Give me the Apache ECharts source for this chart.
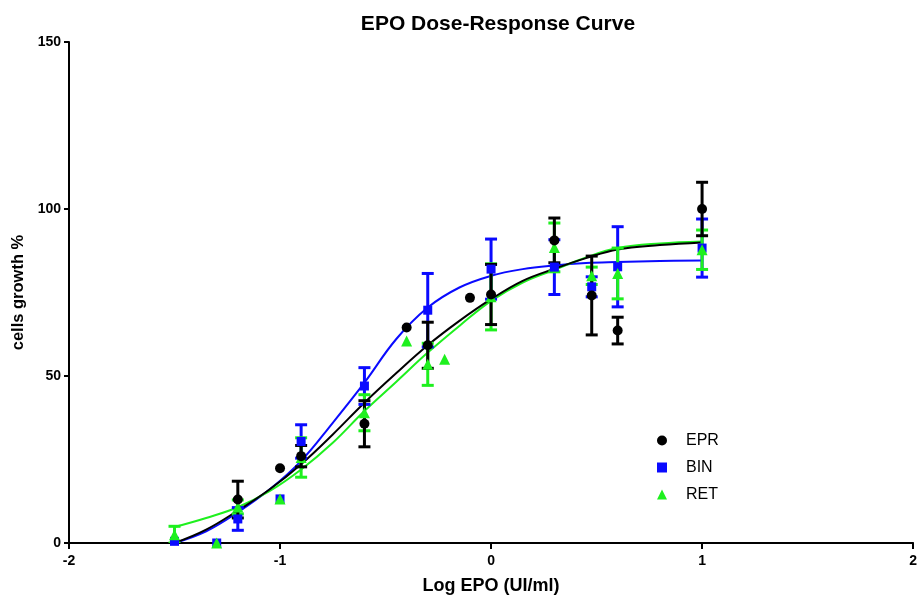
<!DOCTYPE html>
<html>
<head>
<meta charset="utf-8">
<script src="https://cdn.jsdelivr.net/npm/echarts@6/dist/echarts.min.js"></script>
<style>
html,body{margin:0;padding:0;background:#fff;}
#chart{width:920px;height:600px;}
</style>
</head>
<body>
<div id="chart"></div>
<script>
// ---- Data ----
const xTickLabels = ['-2', '-1', '0', '1', '2'];
const yTickLabels = ['0', '50', '100', '150'];
const seriesNames = ['EPR', 'BIN', 'RET'];

// measured points: log dose, mean, error (null = no error bar)
const eprX    = [-1.2, -1.0, -0.9, -0.6, -0.4, -0.3, -0.1, 0, 0.3, 0.477, 0.6, 1];
const eprMean = [13, 22.4, 26, 35.7, 64.5, 59.2, 73.4, 74.4, 90.6, 74.1, 63.6, 100];
const eprErr  = [5.5, null, 3.2, 6.9, null, 6.9, null, 9, 6.7, 11.8, 4, 8];

const binX    = [-1.5, -1.3, -1.2, -1.0, -0.9, -0.6, -0.3, 0, 0.3, 0.477, 0.6, 1];
const binMean = [0.5, 0, 7.2, 13.2, 30.4, 47, 69.7, 82, 82.6, 76.7, 82.7, 88.3];
const binErr  = [null, null, 3.4, null, 5, 5.5, 11, 9, 8.2, 3, 12, 8.7];

const retX    = [-1.5, -1.3, -1.2, -1.0, -0.9, -0.6, -0.4, -0.3, -0.22, 0, 0.3, 0.477, 0.6, 1];
const retMean = [2.5, 0, 10.8, 13.2, 25.6, 39, 60.5, 53.5, 55, 73.7, 88.5, 80, 80.7, 87.8];
const retErr  = [2.5, null, 2.1, null, 5.9, 5.4, null, 6.3, null, 9.9, 7.3, 2.6, 7.6, 5.9];

// fitted curves, values
const curveX   = [-1.5, -1.35, -1.2, -1.05, -0.9, -0.75, -0.6, -0.45, -0.3, -0.15, 0, 0.15, 0.3, 0.45, 0.6, 0.8, 1.0];
const eprCurve = [0, 4, 9.7, 16, 23.6, 32.5, 42, 50.8, 59.2, 66.5, 73, 78.5, 82.1, 85.3, 87.9, 89.2, 90];
const binCurve = [0, 3.5, 9.2, 16, 24.6, 36, 48, 61, 70.5, 76.5, 80, 82, 83.1, 83.8, 84.1, 84.4, 84.6];
const retCurve = [4.8, 7.5, 10.7, 15.5, 22, 30, 39.5, 48.2, 57, 65, 72.5, 78, 81.8, 85.5, 88.3, 89.7, 90.3];

// ---- Build ----
const colors = {EPR: '#000000', BIN: '#0a0aff', RET: '#1ef01e'};
const symbols = {EPR: 'circle', BIN: 'rect', RET: 'triangle'};
const symbolSizes = {EPR: 10, BIN: 9, RET: 11};

function pairs(xs, ys) { return xs.map((x, i) => [x, ys[i]]); }
function errData(xs, ms, es) {
  const out = [];
  xs.forEach((x, i) => { if (es[i] != null) out.push([x, ms[i] - es[i], ms[i] + es[i]]); });
  return out;
}
function errRender(color) {
  return function (params, api) {
    const x = api.value(0), lo = api.value(1), hi = api.value(2);
    const p1 = api.coord([x, hi]);
    const p2 = api.coord([x, lo]);
    const hw = 6;
    const st = {stroke: color, lineWidth: 3};
    return {type: 'group', children: [
      {type: 'line', shape: {x1: p1[0], y1: p1[1], x2: p2[0], y2: p2[1]}, style: st},
      {type: 'line', shape: {x1: p1[0] - hw, y1: p1[1], x2: p1[0] + hw, y2: p1[1]}, style: st},
      {type: 'line', shape: {x1: p2[0] - hw, y1: p2[1], x2: p2[0] + hw, y2: p2[1]}, style: st}
    ]};
  };
}

const dataSets = {
  EPR: {x: eprX, m: eprMean, e: eprErr, c: eprCurve},
  BIN: {x: binX, m: binMean, e: binErr, c: binCurve},
  RET: {x: retX, m: retMean, e: retErr, c: retCurve}
};

const series = [];
['BIN', 'RET', 'EPR'].forEach(name => {
  const d = dataSets[name];
  series.push({
    name: name + ' fit', type: 'line', data: pairs(curveX, d.c), smooth: 0.4,
    showSymbol: false, symbol: 'none', lineStyle: {color: colors[name], width: 2},
    itemStyle: {color: colors[name]}, silent: true, z: 2
  });
});
['BIN', 'RET', 'EPR'].forEach(name => {
  const d = dataSets[name];
  series.push({
    name: name + ' err', type: 'custom', data: errData(d.x, d.m, d.e),
    renderItem: errRender(colors[name]), encode: {x: 0, y: [1, 2]}, silent: true, z: 3, clip: true
  });
});
['BIN', 'RET', 'EPR'].forEach(name => {
  const d = dataSets[name];
  series.push({
    name: name, type: 'scatter', data: pairs(d.x, d.m), symbol: symbols[name],
    symbolSize: symbolSizes[name], itemStyle: {color: colors[name], opacity: 1}, z: 4
  });
});

const chart = echarts.init(document.getElementById('chart'), null, {renderer: 'canvas'});
const font = 'Liberation Sans, Arial, sans-serif';
chart.setOption({
  animation: false,
  backgroundColor: '#fff',
  title: {
    text: 'EPO Dose-Response Curve', left: 493, top: 9, textAlign: 'center',
    textStyle: {fontFamily: font, fontWeight: 'bold', fontSize: 21, color: '#000'}
  },
  legend: {
    data: seriesNames, orient: 'vertical', left: 652, top: 427, itemGap: 10,
    itemWidth: 10, itemHeight: 10,
    textStyle: {fontFamily: font, fontSize: 16, color: '#000', padding: [0, 0, 0, 14], lineHeight: 17}
  },
  grid: {left: 69, top: 42, width: 848, height: 505, containLabel: false},
  xAxis: {
    type: 'value', min: -2, max: 2, interval: 1,
    name: 'Log EPO (UI/ml)', nameLocation: 'middle', nameGap: 34,
    nameTextStyle: {fontFamily: font, fontWeight: 'bold', fontSize: 18, color: '#000'},
    axisLine: {show: true, onZero: false, lineStyle: {color: '#000', width: 2}},
    axisTick: {show: true, inside: false, length: 6, lineStyle: {color: '#000', width: 2}},
    axisLabel: {fontFamily: font, fontWeight: 'bold', fontSize: 14, color: '#000', margin: 11,
      formatter: (v) => xTickLabels[Math.round(v) + 2]},
    splitLine: {show: false}
  },
  yAxis: {
    type: 'value', min: 0, max: 150, interval: 50,
    name: 'cells growth %', nameLocation: 'middle', nameGap: 42,
    nameTextStyle: {fontFamily: font, fontWeight: 'bold', fontSize: 16.5, color: '#000'},
    axisLine: {show: true, onZero: false, lineStyle: {color: '#000', width: 2}},
    axisTick: {show: true, inside: false, length: 5, lineStyle: {color: '#000', width: 2}},
    axisLabel: {fontFamily: font, fontWeight: 'bold', fontSize: 14, color: '#000', margin: 8,
      formatter: (v) => yTickLabels[Math.round(v / 50)]},
    splitLine: {show: false}
  },
  series: series
});
</script>
</body>
</html>
